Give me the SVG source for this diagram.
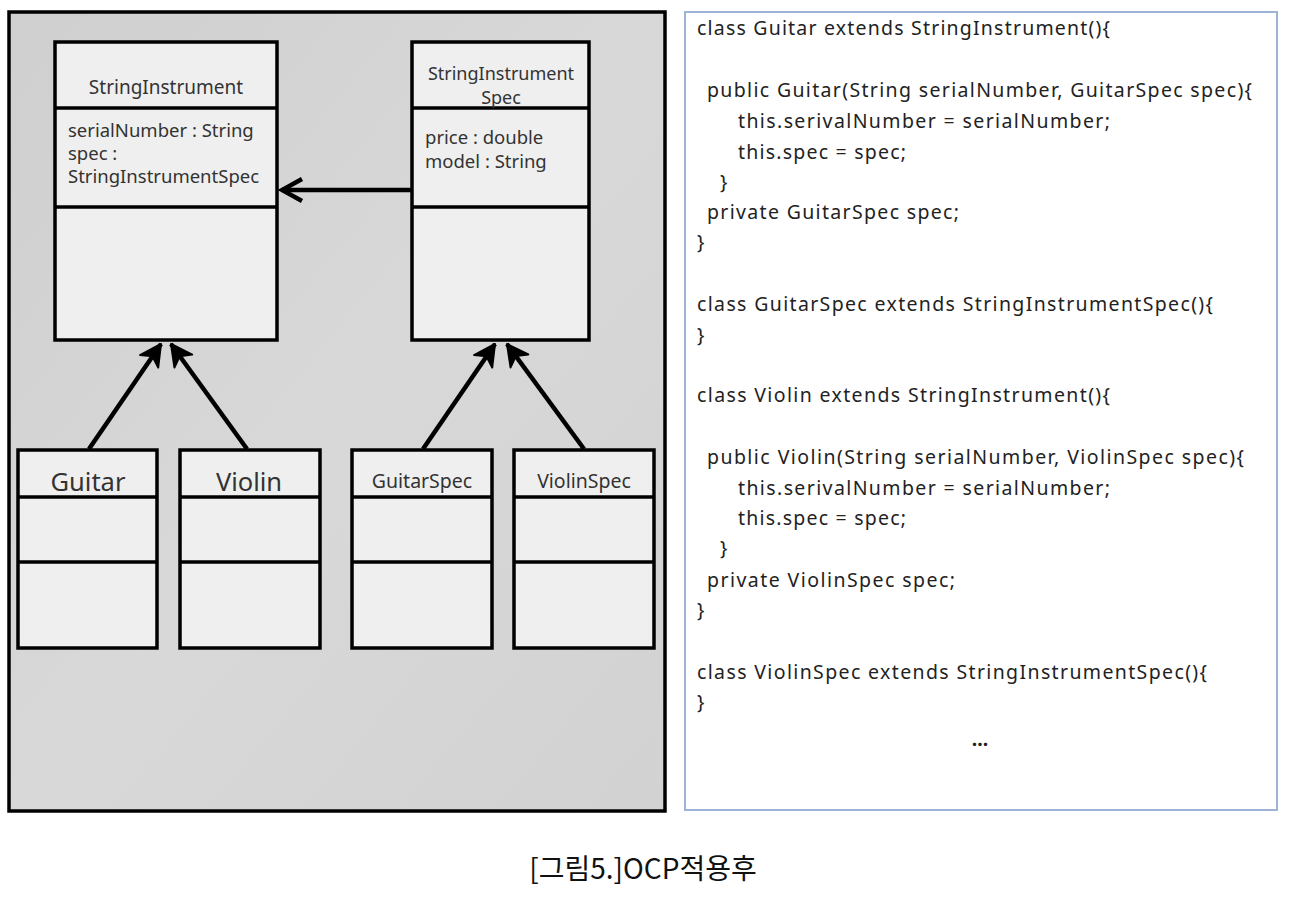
<svg xmlns="http://www.w3.org/2000/svg" width="1290" height="900" viewBox="0 0 1290 900">
<style>
.box{fill:#efefef;stroke:#000;stroke-width:3.5}
.div{stroke:#000;stroke-width:3.5}
.t{font-family:"Noto Sans","Open Sans","DejaVu Sans",sans-serif;fill:#333}
.code{font-family:"Noto Sans","Open Sans","DejaVu Sans",sans-serif;font-size:19.5px;fill:#222}
.conn{stroke:#000;stroke-width:4.5;fill:none}
</style>
<defs>
<marker id="inh" markerUnits="userSpaceOnUse" viewBox="-24 -13 26 26" markerWidth="26" markerHeight="26" refX="0" refY="0" orient="auto">
<path d="M0,0 L-21,-11 L-15,0 L-21,11 Z" fill="#000" stroke="#000" stroke-width="2" stroke-linejoin="round"/>
</marker>
<marker id="open" markerUnits="userSpaceOnUse" viewBox="-24 -14 28 28" markerWidth="28" markerHeight="28" refX="0" refY="0" orient="auto">
<path d="M-20,-11 L0,0 L-20,11" fill="none" stroke="#000" stroke-width="4.5" stroke-linejoin="miter"/>
</marker>
<linearGradient id="bg" x1="0" y1="0" x2="1" y2="1">
<stop offset="0" stop-color="#cfcfcf"/>
<stop offset="0.5" stop-color="#d8d8d8"/>
<stop offset="1" stop-color="#d2d2d2"/>
</linearGradient>
</defs>
<rect width="1290" height="900" fill="#fff"/>
<g id="panel">
<rect x="9" y="12" width="656" height="799" fill="url(#bg)" stroke="#000" stroke-width="3.5"/>
</g>
<g id="connectors">
<line class="conn" x1="412" y1="190" x2="282" y2="190" marker-end="url(#open)"/>
<line class="conn" x1="89" y1="449" x2="161" y2="344" marker-end="url(#inh)"/>
<line class="conn" x1="247" y1="449" x2="171" y2="344" marker-end="url(#inh)"/>
<line class="conn" x1="423" y1="449" x2="495" y2="344" marker-end="url(#inh)"/>
<line class="conn" x1="584" y1="449" x2="507" y2="344" marker-end="url(#inh)"/>
</g>
<g id="StringInstrument">
<rect class="box" x="55" y="42" width="222" height="298"/>
<line class="div" x1="55" y1="108" x2="277" y2="108"/>
<line class="div" x1="55" y1="207" x2="277" y2="207"/>
<text class="t" x="166" y="94" font-size="19" text-anchor="middle">StringInstrument</text>
<text class="t" x="68" y="137" font-size="18.5">serialNumber : String</text>
<text class="t" x="68" y="160" font-size="18.5">spec :</text>
<text class="t" x="68" y="183" font-size="18.5">StringInstrumentSpec</text>
</g>
<g id="StringInstrumentSpec">
<rect class="box" x="412" y="42" width="177" height="298"/>
<line class="div" x1="412" y1="108" x2="589" y2="108"/>
<line class="div" x1="412" y1="207" x2="589" y2="207"/>
<text class="t" x="501" y="80" font-size="18" text-anchor="middle">StringInstrument</text>
<text class="t" x="501" y="104" font-size="18" text-anchor="middle">Spec</text>
<text class="t" x="425" y="144" font-size="18.5">price : double</text>
<text class="t" x="425" y="168" font-size="18.5">model : String</text>
</g>
<g id="Guitar">
<rect class="box" x="18" y="450" width="139" height="198"/>
<line class="div" x1="18" y1="497" x2="157" y2="497"/>
<line class="div" x1="18" y1="562" x2="157" y2="562"/>
<text class="t" x="88" y="491" font-size="25.5" text-anchor="middle">Guitar</text>
</g>
<g id="Violin">
<rect class="box" x="180" y="450" width="140" height="198"/>
<line class="div" x1="180" y1="497" x2="320" y2="497"/>
<line class="div" x1="180" y1="562" x2="320" y2="562"/>
<text class="t" x="249" y="491" font-size="25.5" text-anchor="middle">Violin</text>
</g>
<g id="GuitarSpec">
<rect class="box" x="352" y="450" width="140" height="198"/>
<line class="div" x1="352" y1="497" x2="492" y2="497"/>
<line class="div" x1="352" y1="562" x2="492" y2="562"/>
<text class="t" x="422" y="488" font-size="19.5" text-anchor="middle">GuitarSpec</text>
</g>
<g id="ViolinSpec">
<rect class="box" x="514" y="450" width="140" height="198"/>
<line class="div" x1="514" y1="497" x2="654" y2="497"/>
<line class="div" x1="514" y1="562" x2="654" y2="562"/>
<text class="t" x="584" y="488" font-size="19.5" text-anchor="middle">ViolinSpec</text>
</g>
<g id="code">
<rect x="685" y="12" width="592" height="798" fill="#fff" stroke="#9db3d8" stroke-width="2"/>
<text class="code" x="697" y="35" textLength="413" lengthAdjust="spacing">class Guitar extends StringInstrument(){</text>
<text class="code" x="707" y="97" textLength="545" lengthAdjust="spacing">public Guitar(String serialNumber, GuitarSpec spec){</text>
<text class="code" x="738" y="128" textLength="372" lengthAdjust="spacing">this.serivalNumber = serialNumber;</text>
<text class="code" x="738" y="159" textLength="168" lengthAdjust="spacing">this.spec = spec;</text>
<text class="code" x="720" y="189">}</text>
<text class="code" x="707" y="219" textLength="252" lengthAdjust="spacing">private GuitarSpec spec;</text>
<text class="code" x="697" y="249">}</text>
<text class="code" x="697" y="311" textLength="516" lengthAdjust="spacing">class GuitarSpec extends StringInstrumentSpec(){</text>
<text class="code" x="697" y="342">}</text>
<text class="code" x="697" y="402" textLength="413" lengthAdjust="spacing">class Violin extends StringInstrument(){</text>
<text class="code" x="707" y="464" textLength="537" lengthAdjust="spacing">public Violin(String serialNumber, ViolinSpec spec){</text>
<text class="code" x="738" y="495" textLength="372" lengthAdjust="spacing">this.serivalNumber = serialNumber;</text>
<text class="code" x="738" y="525" textLength="168" lengthAdjust="spacing">this.spec = spec;</text>
<text class="code" x="720" y="555">}</text>
<text class="code" x="707" y="587" textLength="248" lengthAdjust="spacing">private ViolinSpec spec;</text>
<text class="code" x="697" y="617">}</text>
<text class="code" x="697" y="679" textLength="510" lengthAdjust="spacing">class ViolinSpec extends StringInstrumentSpec(){</text>
<text class="code" x="697" y="709">}</text>
<text class="code" x="980" y="746" text-anchor="middle" font-weight="bold">...</text>
</g>
<g id="caption">
<text x="643" y="879" font-family="'Noto Sans CJK KR',sans-serif" font-size="28" fill="#111" text-anchor="middle">[그림5.]OCP적용후</text>
</g>
</svg>
